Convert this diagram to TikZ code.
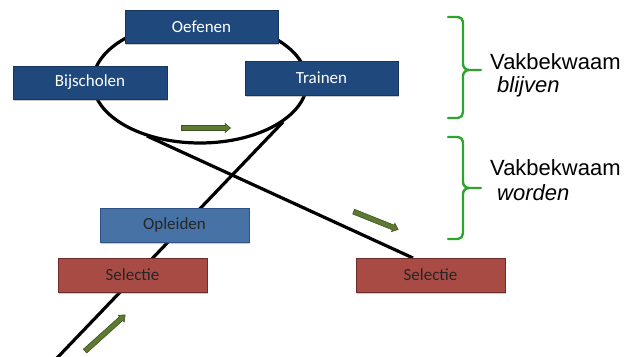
\documentclass[tikz,border=0pt]{standalone}
\usepackage{fontspec}
\setmainfont{Carlito}
\newfontfamily\arialfont{Liberation Sans}
\usetikzlibrary{shapes.arrows,shadows}
\definecolor{darkblue}{HTML}{1F497D}
\definecolor{darkblueedge}{HTML}{17365D}
\definecolor{midblue}{HTML}{4672A5}
\definecolor{midblueedge}{HTML}{2E5283}
\definecolor{brick}{HTML}{A84B44}
\definecolor{brickedge}{HTML}{6E2C27}
\definecolor{bracegreen}{HTML}{2EA32E}
\definecolor{arrowgreen}{HTML}{5E7A32}
\definecolor{arrowedge}{HTML}{3D5220}
\tikzset{
  box/.style={rectangle, draw=#1, line width=0.8pt, minimum width=153pt, minimum height=33pt,
    inner sep=0pt, font=\fontsize{17}{20}\selectfont,
    drop shadow={shadow xshift=0.5pt, shadow yshift=-2pt, opacity=0.35, fill=black!60}},
  topbox/.style={box=darkblueedge, fill=darkblue, text=white},
  midbox/.style={box=midblueedge, fill=midblue, text=black!85, minimum width=149pt, minimum height=34pt},
  selbox/.style={box=brickedge, fill=brick, text=black!85, minimum width=149pt, minimum height=34pt},
  cycle line/.style={line width=3.2pt, black},
  greenarrow/.style={single arrow, draw=arrowedge, fill=arrowgreen, line width=0.6pt,
    minimum width=9pt, inner sep=2.2pt, single arrow head extend=2pt,
    single arrow tip angle=80, single arrow head indent=0pt},
  bracepath/.style={draw=bracegreen, line width=2.4pt, line cap=round, line join=round},
  sidetext/.style={font=\arialfont\fontsize{22}{26}\selectfont, anchor=west, inner sep=0pt},
}
\begin{document}
\begin{tikzpicture}[x=1pt,y=-1pt]
\useasboundingbox (0,0) rectangle (631,356);
% cycle and lines
\draw[cycle line] (200,82) ellipse [x radius=107, y radius=61];
\coordinate (e1) at (147,136);
\coordinate (e2) at (283,122);
\coordinate (sr) at (413,258);
\coordinate (bl) at (57,358);
\draw[cycle line] (e1) -- (sr);
\draw[cycle line] (bl) -- (e2);
% boxes
\node[topbox] (oef) at (201.5,26.5) {Oefenen};
\node[topbox, minimum width=154pt] (bij) at (90,82.5) {Bijscholen};
\node[topbox, minimum height=34pt] (tra) at (321.5,78) {Trainen};
\node[midbox] (opl) at (174.5,225) {Opleiden};
\node[selbox] (sell) at (132.5,275) {Selectie};
\node[selbox] (selr) at (430.5,275) {Selectie};
% green arrows
\node[greenarrow, minimum height=49pt] (a1) at (204.5,128) {};
\node[greenarrow, minimum height=48pt, rotate=-21.8] (a2) at (374.5,220) {};
\node[greenarrow, minimum height=54pt, rotate=42] (a3) at (104,334) {};
% braces
\draw[bracepath] (448,17) -- (458,17) to[out=0,in=90] (463,22) -- (463,64)
  to[out=-90,in=180] (469,70) -- (481,70);
\draw[bracepath] (469,70) to[out=180,in=90] (463,76) -- (463,112)
  to[out=-90,in=0] (458,118) -- (448,118);
\draw[bracepath] (448,137) -- (458,137) to[out=0,in=90] (463,142) -- (463,182)
  to[out=-90,in=180] (469,188) -- (481,188);
\draw[bracepath] (469,188) to[out=180,in=90] (463,194) -- (463,233)
  to[out=-90,in=0] (458,239) -- (448,239);
% side texts
\node[sidetext] (v1) at (490,62) {Vakbekwaam};
\node[sidetext] (b1) at (497,87) {\itshape blijven};
\node[sidetext] (v2) at (490,168) {Vakbekwaam};
\node[sidetext] (w2) at (497,193) {\itshape worden};
\end{tikzpicture}
\end{document}
